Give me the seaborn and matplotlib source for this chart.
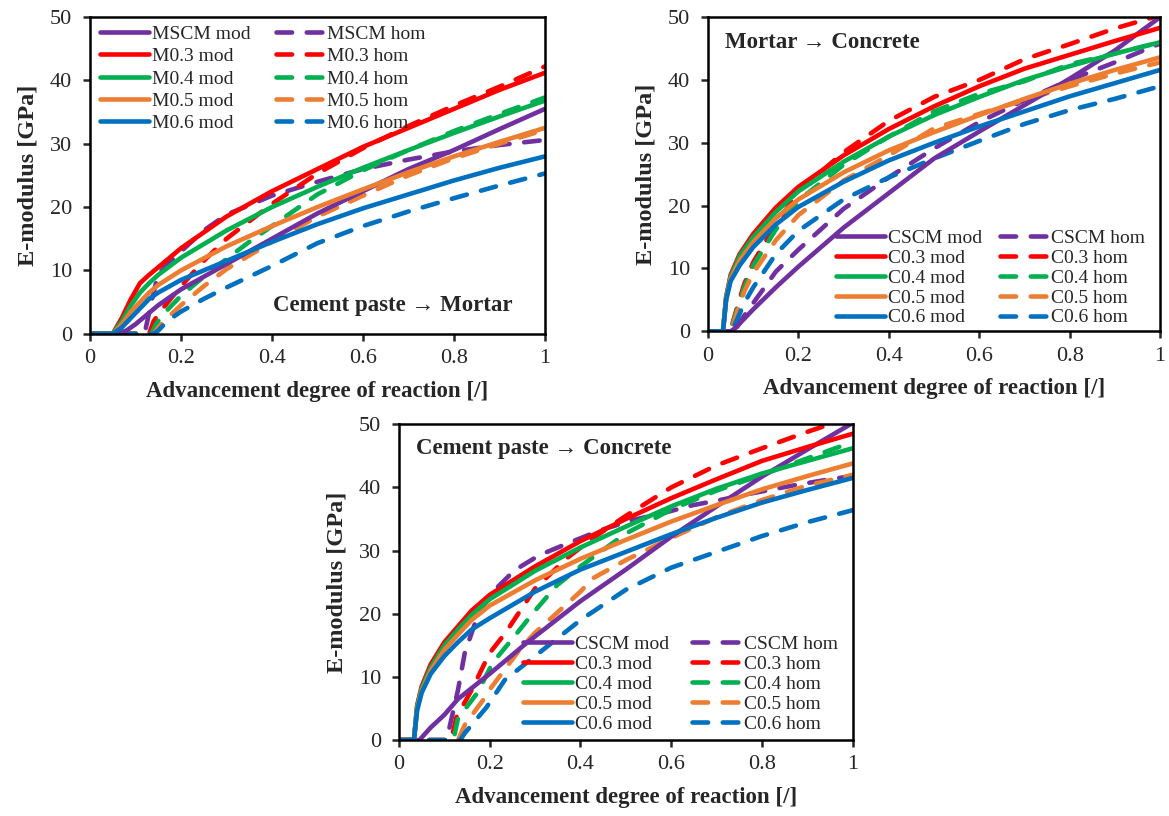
import matplotlib
matplotlib.use("Agg")
import matplotlib.pyplot as plt
import seaborn as sns
import pandas as pd

sns.set_theme(style="ticks")
plt.rcParams["font.family"] = ["Liberation Serif", "DejaVu Serif"]

# Colours
PURPLE = "#7030A0"
RED = "#FF0000"
GREEN = "#00B050"
ORANGE = "#ED7D31"
BLUE = "#0070C0"

XTICKS = [0, 0.2, 0.4, 0.6, 0.8, 1]
XTICK_LABELS = ["0", "0.2", "0.4", "0.6", "0.8", "1"]
YTICKS = [0, 10, 20, 30, 40, 50]
XLABEL = "Advancement degree of reaction [/]"
YLABEL = "E-modulus [GPa]"

# ---- Panel 1: Cement paste -> Mortar ----
P1_MOD_X = [0, 0.05, 0.07, 0.09, 0.11, 0.13, 0.15, 0.2, 0.3, 0.4, 0.5, 0.6, 0.7, 0.8, 0.9, 1.0]
P1_M03_MOD = [0, 0, 2.5, 5.5, 8, 9.3, 10.5, 13.5, 18.5, 22.5, 26, 29.5, 32.5, 35.5, 38.5, 41.2]
P1_M04_MOD = [0, 0, 2, 4.5, 6.5, 8, 9.3, 12, 16.3, 20, 23.2, 26.2, 29, 31.7, 34.3, 36.8]
P1_M05_MOD = [0, 0, 1.5, 3.5, 5, 6.5, 7.7, 10, 13.8, 17, 20, 22.8, 25.5, 28, 30.3, 32.5]
P1_M06_MOD = [0, 0, 1, 2.5, 4, 5.5, 6.5, 8.5, 11.5, 14.5, 17.3, 19.8, 22, 24.2, 26.2, 28]
P1_MSCM_MOD_X = [0, 0.06, 0.08, 0.1, 0.125, 0.15, 0.2, 0.25, 0.3, 0.4, 0.5, 0.6, 0.7, 0.8, 0.9, 1.0]
P1_MSCM_MOD = [0, 0, 0.5, 1.5, 3, 4.5, 7, 9, 11, 15, 19, 22.5, 26, 29, 32.3, 35.5]

P1_MSCM_HOM_X = [0, 0.1, 0.12, 0.135, 0.15, 0.2, 0.25, 0.3, 0.4, 0.5, 0.6, 0.7, 0.8, 0.9, 1.0]
P1_MSCM_HOM = [0, 0, 0, 5, 9.5, 13, 16.3, 18.8, 21.8, 24, 26, 27.5, 28.8, 29.8, 30.6]
P1_M03_HOM_X = [0, 0.1, 0.13, 0.14, 0.16, 0.2, 0.25, 0.3, 0.4, 0.5, 0.6, 0.7, 0.8, 0.9, 1.0]
P1_M03_HOM = [0, 0, 0, 2, 4, 7.5, 11.5, 15, 20.5, 25.3, 29.3, 32.8, 36, 39, 42.2]
P1_M04_HOM_X = [0, 0.1, 0.135, 0.145, 0.16, 0.2, 0.25, 0.3, 0.35, 0.4, 0.5, 0.6, 0.7, 0.8, 0.9, 1.0]
P1_M04_HOM = [0, 0, 0, 1.5, 3, 6, 9, 11.8, 14.5, 17, 22, 25.8, 29, 32, 34.7, 37.3]
P1_M05_HOM_X = [0, 0.1, 0.14, 0.15, 0.17, 0.2, 0.25, 0.3, 0.4, 0.5, 0.6, 0.7, 0.8, 0.9, 1.0]
P1_M05_HOM = [0, 0, 0, 1, 2.5, 4.5, 7.5, 10.2, 14.5, 18.5, 21.8, 25, 27.7, 30, 32.2]
P1_M06_HOM_X = [0, 0.1, 0.14, 0.15, 0.17, 0.2, 0.25, 0.3, 0.4, 0.5, 0.6, 0.7, 0.8, 0.9, 1.0]
P1_M06_HOM = [0, 0, 0, 0.5, 2, 3.5, 5.5, 7.3, 10.7, 14.3, 17, 19.3, 21.4, 23.4, 25.3]

# ---- Panel 2: Mortar -> Concrete ----
P2_MOD_X = [0, 0.033, 0.04, 0.05, 0.07, 0.1, 0.15, 0.2, 0.3, 0.4, 0.5, 0.6, 0.7, 0.8, 0.9, 1.0]
P2_C03_MOD = [0, 0, 5.5, 9, 12.3, 15.5, 19.7, 23, 28, 32.2, 35.8, 39, 41.8, 44, 46.2, 48.3]
P2_C04_MOD = [0, 0, 5.3, 8.7, 12, 15, 19, 22.3, 27, 31, 34.4, 37.3, 40, 42.2, 44.2, 46]
P2_C05_MOD = [0, 0, 5.1, 8.4, 11.3, 14.2, 18, 21, 25.3, 28.8, 31.7, 34.4, 37, 39.4, 41.6, 43.6]
P2_C06_MOD = [0, 0, 5, 8, 10.5, 13.4, 17, 19.8, 23.8, 27.2, 30, 32.6, 35, 37.4, 39.5, 41.6]
P2_CSCM_MOD_X = [0, 0.05, 0.06, 0.08, 0.1, 0.15, 0.2, 0.3, 0.4, 0.5, 0.6, 0.7, 0.8, 0.9, 1.0]
P2_CSCM_MOD = [0, 0, 0.5, 2, 3.5, 7, 10.3, 16.5, 22, 27.5, 31.8, 36, 40.2, 44.7, 50]

P2_HOM_X = [0, 0.05, 0.055, 0.065, 0.08, 0.1, 0.15, 0.2, 0.3, 0.4, 0.5, 0.6, 0.7, 0.8, 0.9, 1.0]
P2_CSCM_HOM = [0, 0, 0, 0.8, 2.5, 4.5, 9.5, 13, 19.5, 24.5, 29.1, 33.3, 36.8, 40, 42.8, 45.8]
P2_C03_HOM = [0, 0, 1.5, 4, 7.5, 11, 17, 22.3, 28.5, 33.5, 37.3, 40, 43.3, 45.7, 48.2, 50.3]
P2_C04_HOM = [0, 0, 1.3, 3.7, 7, 10.5, 16.2, 20.8, 26.5, 31, 35, 37.8, 39.8, 42.5, 44.2, 46]
P2_C05_HOM = [0, 0, 1, 3.2, 6.3, 9.3, 14.5, 18.5, 24, 28, 32.3, 34.6, 36.8, 39, 41, 42.8]
P2_C06_HOM = [0, 0, 0.5, 2, 4.5, 7, 12.3, 16, 21, 24.5, 27.5, 30.3, 33, 35.2, 37, 39]

# ---- Panel 3: Cement paste -> Concrete ----
P3_MOD_X = [0, 0.033, 0.04, 0.05, 0.07, 0.1, 0.13, 0.16, 0.2, 0.3, 0.4, 0.5, 0.6, 0.7, 0.8, 0.9, 1.0]
P3_C03_MOD = [0, 0, 5.5, 8.5, 12, 15.5, 18, 20.5, 23, 27.5, 31.5, 35, 38.3, 41.3, 44.2, 46.4, 48.5]
P3_C04_MOD = [0, 0, 5.3, 8.2, 11.5, 15, 17.5, 19.8, 22.3, 26.8, 30.5, 33.8, 37, 39.8, 42.2, 44.2, 46.2]
P3_C05_MOD = [0, 0, 5, 7.8, 11, 14.3, 16.7, 19, 21.3, 25.3, 28.7, 31.7, 34.6, 37.2, 39.7, 41.8, 43.8]
P3_C06_MOD = [0, 0, 4.7, 7.5, 10.5, 13.3, 15.5, 17.5, 19.3, 23.5, 27, 29.8, 32.6, 35.2, 37.6, 39.6, 41.5]
P3_CSCM_MOD_X = [0, 0.045, 0.07, 0.1, 0.13, 0.2, 0.28, 0.4, 0.5, 0.6, 0.7, 0.8, 0.9, 1.0]
P3_CSCM_MOD = [0, 0, 2, 4, 6.5, 10.5, 15.3, 22, 27, 32.2, 37, 41.7, 46, 50.2]

P3_CSCM_HOM_X = [0, 0.1, 0.105, 0.13, 0.145, 0.17, 0.2, 0.255, 0.31, 0.377, 0.443, 0.513, 0.58, 0.648, 0.707, 0.78, 0.868, 0.95, 1.0]
P3_CSCM_HOM = [0, 0, 0, 7.9, 13.8, 19, 23, 26.9, 29.3, 31.3, 33.2, 34.8, 35.9, 37.2, 38, 39.1, 40.3, 41.3, 41.8]
P3_C03_HOM_X = [0, 0.1, 0.115, 0.127, 0.16, 0.2, 0.234, 0.3, 0.37, 0.43, 0.5, 0.6, 0.7, 0.8, 0.9, 0.97]
P3_C03_HOM = [0, 0, 0, 3.7, 7.9, 13.8, 16.9, 24, 28.8, 32.1, 35.5, 40, 43.5, 46.2, 48.8, 50.5]
P3_C04_HOM_X = [0, 0.1, 0.12, 0.13, 0.174, 0.207, 0.244, 0.3, 0.348, 0.4, 0.5, 0.6, 0.7, 0.8, 0.9, 1.0]
P3_C04_HOM = [0, 0, 0, 3.4, 7.6, 12.3, 15.5, 20.5, 24.5, 27.5, 32.7, 36.5, 39.5, 42, 44.6, 47.2]
P3_C05_HOM_X = [0, 0.1, 0.13, 0.145, 0.185, 0.2, 0.27, 0.3, 0.4, 0.427, 0.5, 0.6, 0.7, 0.8, 0.9, 1.0]
P3_C05_HOM = [0, 0, 0, 2.4, 6.3, 8, 14.7, 17, 23.5, 25.6, 28.5, 32, 35.3, 38, 40.3, 42]
P3_C06_HOM_X = [0, 0.1, 0.135, 0.145, 0.193, 0.233, 0.27, 0.3, 0.4, 0.5, 0.6, 0.7, 0.8, 0.9, 1.0]
P3_C06_HOM = [0, 0, 0, 1.1, 5.2, 9.5, 11.6, 13.3, 19, 23.8, 27.3, 29.8, 32.3, 34.5, 36.4]

COLORS = [PURPLE, RED, GREEN, ORANGE, BLUE]

panels = [
    dict(
        rect=[0.077, 0.591, 0.389, 0.388],
        names=["MSCM", "M0.3", "M0.4", "M0.5", "M0.6"],
        mod=[(P1_MSCM_MOD_X, P1_MSCM_MOD), (P1_MOD_X, P1_M03_MOD), (P1_MOD_X, P1_M04_MOD),
             (P1_MOD_X, P1_M05_MOD), (P1_MOD_X, P1_M06_MOD)],
        hom=[(P1_MSCM_HOM_X, P1_MSCM_HOM), (P1_M03_HOM_X, P1_M03_HOM), (P1_M04_HOM_X, P1_M04_HOM),
             (P1_M05_HOM_X, P1_M05_HOM), (P1_M06_HOM_X, P1_M06_HOM)],
        title="Cement paste \u2192 Mortar", tpos=(0.666, 0.09), tha="center",
        leg=dict(loc="upper left", bbox_to_anchor=(-0.007, 1.017), labelspacing=0.24, columnspacing=1.3),
    ),
    dict(
        rect=[0.6057, 0.594, 0.3867, 0.385],
        names=["CSCM", "C0.3", "C0.4", "C0.5", "C0.6"],
        mod=[(P2_CSCM_MOD_X, P2_CSCM_MOD), (P2_MOD_X, P2_C03_MOD), (P2_MOD_X, P2_C04_MOD),
             (P2_MOD_X, P2_C05_MOD), (P2_MOD_X, P2_C06_MOD)],
        hom=[(P2_HOM_X, P2_CSCM_HOM), (P2_HOM_X, P2_C03_HOM), (P2_HOM_X, P2_C04_HOM),
             (P2_HOM_X, P2_C05_HOM), (P2_HOM_X, P2_C06_HOM)],
        title="Mortar \u2192 Concrete", tpos=(0.038, 0.92), tha="left",
        leg=dict(loc="lower right", bbox_to_anchor=(0.997, -0.028), labelspacing=0.12, columnspacing=0.9),
    ),
    dict(
        rect=[0.3413, 0.093, 0.388, 0.387],
        names=["CSCM", "C0.3", "C0.4", "C0.5", "C0.6"],
        mod=[(P3_CSCM_MOD_X, P3_CSCM_MOD), (P3_MOD_X, P3_C03_MOD), (P3_MOD_X, P3_C04_MOD),
             (P3_MOD_X, P3_C05_MOD), (P3_MOD_X, P3_C06_MOD)],
        hom=[(P3_CSCM_HOM_X, P3_CSCM_HOM), (P3_C03_HOM_X, P3_C03_HOM), (P3_C04_HOM_X, P3_C04_HOM),
             (P3_C05_HOM_X, P3_C05_HOM), (P3_C06_HOM_X, P3_C06_HOM)],
        title="Cement paste \u2192 Concrete", tpos=(0.037, 0.924), tha="left",
        leg=dict(loc="lower right", bbox_to_anchor=(0.997, -0.02), labelspacing=0.12, columnspacing=1.2),
    ),
]

fig = plt.figure(figsize=(11.69, 8.16), dpi=100)

for p in panels:
    ax = fig.add_axes(p["rect"])
    # hom (dashed) first, mod (solid) on top; keep handles for the legend
    mod_handles, hom_handles = [], []
    for (x, y), name, col in zip(p["hom"], p["names"], COLORS):
        df = pd.DataFrame({"x": x, "y": y})
        sns.lineplot(data=df, x="x", y="y", ax=ax, color=col, lw=3.3, sort=False,
                     estimator=None, legend=False)
        ln = ax.lines[-1]
        ln.set_dashes((3.4, 3.2))
        ln.set_dash_capstyle("round")
        ln.set_label(f"{name} hom")
        hom_handles.append(ln)
    for (x, y), name, col in zip(p["mod"], p["names"], COLORS):
        df = pd.DataFrame({"x": x, "y": y})
        sns.lineplot(data=df, x="x", y="y", ax=ax, color=col, lw=3.3, sort=False,
                     estimator=None, legend=False)
        ln = ax.lines[-1]
        ln.set_solid_capstyle("round")
        ln.set_label(f"{name} mod")
        mod_handles.append(ln)

    ax.set_xlim(0, 1)
    ax.set_ylim(0, 50)
    ax.set_xticks(XTICKS)
    ax.set_xticklabels(XTICK_LABELS)
    ax.set_yticks(YTICKS)
    ax.tick_params(labelsize=16, direction="out", length=5, width=1.8)
    ax.tick_params(axis="x", pad=6)
    ax.tick_params(axis="y", pad=8)
    for sp in ax.spines.values():
        sp.set_linewidth(1.8)
        sp.set_color("black")
        sp.set_visible(True)
    ax.set_xlabel(XLABEL, fontsize=16.5, fontweight="bold", labelpad=9)
    ax.set_ylabel(YLABEL, fontsize=17.5, fontweight="bold", labelpad=8)

    ax.text(p["tpos"][0], p["tpos"][1], p["title"], transform=ax.transAxes,
            ha=p["tha"], va="center", fontsize=16.5, fontweight="bold")

    ax.legend(handles=mod_handles + hom_handles, ncol=2, frameon=False, fontsize=14,
              handlelength=2.5, handletextpad=0.15, borderaxespad=0.3, **p["leg"])

fig.savefig("out.png", dpi=100)
